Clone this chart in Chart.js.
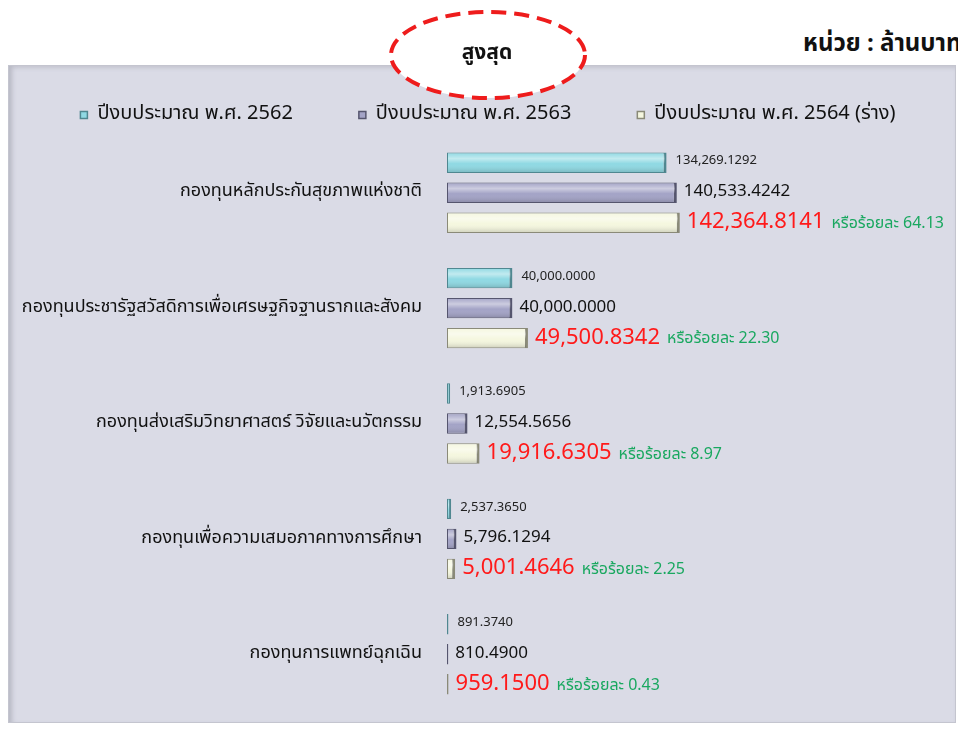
<!DOCTYPE html>
<html>
<head>
<meta charset="utf-8">
<script src="https://cdn.jsdelivr.net/npm/chart.js@4"></script>
<style>
  html, body { margin:0; padding:0; width:958px; height:729px; overflow:hidden; background:#ffffff; }
  body { position:relative; font-family: "Noto Sans Thai", "Noto Sans", sans-serif; }
  #panel { position:absolute; left:8px; top:65px; width:946px; height:656px;
           background:#dadbe6; border:1px solid #c4c5cf;
           box-shadow: inset 6px 0 5px -3px #b8b9c4, inset 0 4px 4px -2px #c4c5cf; }
  #wrap { position:absolute; left:8px; top:65px; width:946px; height:656px; }
  #unit { position:absolute; left:803px; top:28px; white-space:nowrap; font-weight:bold; font-size:24px; color:#111; line-height:32px; }
  #oval { position:absolute; left:386px; top:8px; width:204px; height:94px; z-index:5; }
  #ovaltext { position:absolute; left:387px; top:38px; width:200px; text-align:center; font-weight:bold;
              font-size:21px; color:#111; z-index:6; line-height:30px; }
</style>
</head>
<body>
<div id="unit">หน่วย : ล้านบาท</div>
<div id="panel"></div>
<div id="wrap"><canvas id="c" width="946" height="656"></canvas></div>
<svg id="oval" width="204" height="94" viewBox="0 0 204 94">
  <ellipse cx="102" cy="47" rx="97" ry="43" fill="#ffffff" stroke="#ee1c1c" stroke-width="4" stroke-dasharray="15 8"/>
</svg>
<div id="ovaltext">สูงสุด</div>
<script>
const categories = [
  "กองทุนหลักประกันสุขภาพแห่งชาติ",
  "กองทุนประชารัฐสวัสดิการเพื่อเศรษฐกิจฐานรากและสังคม",
  "กองทุนส่งเสริมวิทยาศาสตร์ วิจัยและนวัตกรรม",
  "กองทุนเพื่อความเสมอภาคทางการศึกษา",
  "กองทุนการแพทย์ฉุกเฉิน"
];
const seriesNames = ["ปีงบประมาณ พ.ศ. 2562", "ปีงบประมาณ พ.ศ. 2563", "ปีงบประมาณ พ.ศ. 2564 (ร่าง)"];
const values2562 = [134269.1292, 40000.0000, 1913.6905, 2537.3650, 891.3740];
const values2563 = [140533.4242, 40000.0000, 12554.5656, 5796.1294, 810.4900];
const values2564 = [142364.8141, 49500.8342, 19916.6305, 5001.4646, 959.1500];
const percent2564 = ["64.13", "22.30", "8.97", "2.25", "0.43"];

const FONT = '"Noto Sans Thai", "Noto Sans", sans-serif';

function fmt(v) {
  return v.toLocaleString('en-US', {minimumFractionDigits: 4, maximumFractionDigits: 4});
}

const labelPlugin = {
  id: 'valueLabels',
  afterDatasetsDraw(chart) {
    const ctx = chart.ctx;
    ctx.save();
    chart.data.datasets.forEach((ds, di) => {
      const meta = chart.getDatasetMeta(di);
      meta.data.forEach((bar, i) => {
        const h = bar.height;
        const left = Math.min(bar.x, bar.base), w = Math.abs(bar.x - bar.base);
        if (w > 4) {
          const g = ctx.createLinearGradient(0, bar.y - h/2, 0, bar.y + h/2);
          g.addColorStop(0, 'rgba(255,255,255,0.0)');
          g.addColorStop(0.3, 'rgba(255,255,255,0.45)');
          g.addColorStop(0.55, 'rgba(255,255,255,0.0)');
          g.addColorStop(1, 'rgba(0,0,0,0.18)');
          ctx.fillStyle = g;
          ctx.fillRect(left + 1, bar.y - h/2 + 1, w - 3, h - 2);
        }
        ctx.textBaseline = 'middle';
        ctx.textAlign = 'left';
        const x = bar.x + 8;
        const v = ds.data[i];
        if (di === 0) {
          ctx.font = '13px ' + FONT;
          ctx.fillStyle = '#222222';
          ctx.fillText(fmt(v), x + 1, bar.y - 1);
        } else if (di === 1) {
          ctx.font = '17px ' + FONT;
          ctx.fillStyle = '#111111';
          ctx.fillText(fmt(v), x - 1, bar.y);
        } else {
          ctx.font = '22px ' + FONT;
          ctx.fillStyle = '#ff1a1a';
          const t = fmt(v);
          ctx.fillText(t, x - 1, bar.y + 1);
          const tw = ctx.measureText(t).width;
          ctx.font = '16px ' + FONT;
          ctx.fillStyle = '#1aa860';
          ctx.fillText('หรือร้อยละ ' + percent2564[i], x - 1 + tw + 7, bar.y + 2);
        }
      });
    });
    ctx.restore();
  }
};

const GAP = '\u2003\u2003\u2003';

new Chart(document.getElementById('c'), {
  type: 'bar',
  data: {
    labels: categories,
    datasets: [
      { label: seriesNames[0], data: values2562, backgroundColor: '#8fd9e3', borderColor: '#4f8790',
        borderWidth: {top:1, bottom:1, left:1, right:3}, borderSkipped: false },
      { label: seriesNames[1], data: values2563, backgroundColor: '#a3a3c6', borderColor: '#55556e',
        borderWidth: {top:1, bottom:1, left:1, right:3}, borderSkipped: false },
      { label: seriesNames[2], data: values2564, backgroundColor: '#f5f7df', borderColor: '#8a8a78',
        borderWidth: {top:1, bottom:1, left:1, right:3}, borderSkipped: false }
    ]
  },
  options: {
    indexAxis: 'y',
    responsive: false,
    animation: false,
    categoryPercentage: 0.78,
    barPercentage: 0.68,
    layout: { padding: { top: 34, right: 0, bottom: 9, left: 14 } },
    plugins: {
      legend: {
        display: true,
        position: 'top',
        labels: {
          boxWidth: 7, boxHeight: 7, padding: 6,
          color: '#111111',
          font: { family: FONT, size: 20 },
          generateLabels(chart) {
            const items = Chart.defaults.plugins.legend.labels.generateLabels(chart);
            items.forEach((it, k) => { if (k < items.length - 1) it.text = it.text + GAP; });
            return items;
          }
        }
      },
      tooltip: { enabled: false }
    },
    scales: {
      x: { display: false, min: 0, max: 310000, grid: { display: false } },
      y: {
        afterFit(scale) { scale.width = 425; scale.paddingTop = 0; scale.paddingBottom = 0; },
        grid: { display: false },
        border: { display: false },
        ticks: { color: '#111111', padding: 17, font: { family: FONT, size: 18 } }
      }
    }
  },
  plugins: [labelPlugin]
});
</script>
</body>
</html>
